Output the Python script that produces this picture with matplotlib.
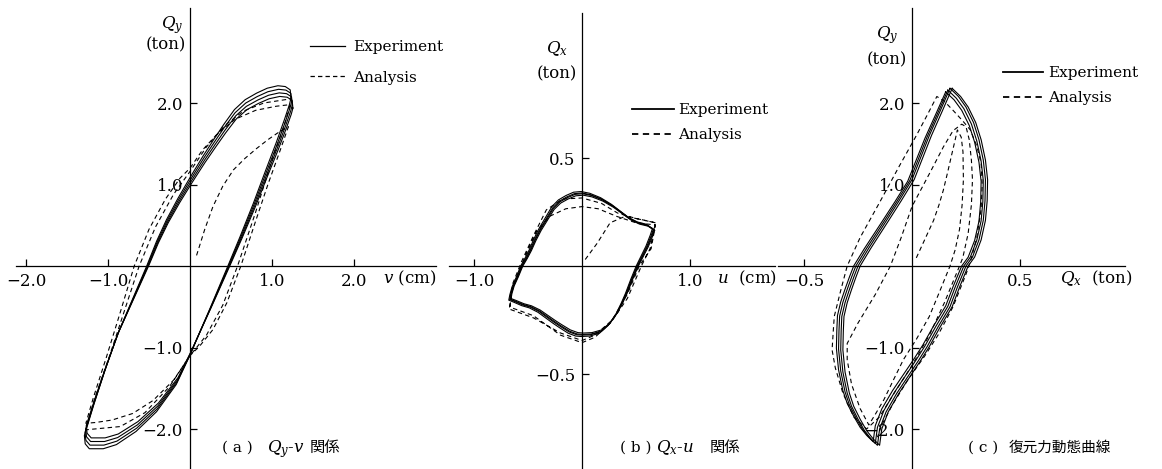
import numpy as np
import matplotlib
matplotlib.use("Agg")
import matplotlib.pyplot as plt
from matplotlib.lines import Line2D

plt.rcParams['font.family'] = ['DejaVu Serif', 'Noto Sans CJK JP']
plt.rcParams['mathtext.fontset'] = 'dejavuserif'

W, H = 1162, 469

# ---- (a) Qy - v : experiment loop (v cm, Qy ton)
a_exp_v = [1.24, 1.23, 1.17, 1.08, 0.95, 0.82, 0.68, 0.55, 0.42, 0.30, 0.17, 0.06, 0.0,
           -0.14, -0.28, -0.40, -0.52, -0.70, -0.88, -1.04, -1.17, -1.28,
           -1.27, -1.22, -1.05, -0.89, -0.65, -0.40, -0.16, 0.0, 0.12, 0.25, 0.36, 0.47,
           0.62, 0.78, 0.93, 1.06, 1.16, 1.22, 1.24]
a_exp_q = [2.04, 2.14, 2.18, 2.19, 2.16, 2.10, 2.02, 1.90, 1.72, 1.54, 1.34, 1.16, 1.06,
           0.82, 0.56, 0.30, 0.0, -0.42, -0.84, -1.30, -1.70, -2.06,
           -2.16, -2.22, -2.22, -2.17, -2.01, -1.77, -1.44, -1.10, -0.82, -0.52, -0.26, 0.0,
           0.36, 0.76, 1.16, 1.50, 1.78, 1.96, 2.04]
a_cycle_gain = [0.95, 0.97, 0.99, 1.01]
a_cycle_shift = [0.015, 0.008, 0.0, -0.008]

# analysis: virgin loading then two full cycles
a_ana_v = [0.08, 0.18, 0.28, 0.40, 0.53, 0.67, 0.81, 0.95, 1.08, 1.20,
           1.10, 0.95, 0.80, 0.62, 0.45, 0.28, 0.12, 0.0, -0.20, -0.45, -0.70, -0.95, -1.15, -1.27,
           -1.18, -1.02, -0.86, -0.68, -0.50, -0.30, -0.12, 0.0, 0.15, 0.35, 0.55, 0.80, 1.05, 1.22,
           1.16, 1.00, 0.80, 0.58, 0.40, 0.20, 0.0, -0.25, -0.55, -0.85, -1.27,
           -1.16, -0.98, -0.80, -0.62, -0.42, -0.20, 0.0, 0.20, 0.42, 0.65, 0.90, 1.22]
a_ana_q = [0.13, 0.45, 0.73, 0.98, 1.18, 1.32, 1.44, 1.55, 1.64, 1.71,
           1.42, 1.00, 0.55, 0.0, -0.45, -0.78, -0.98, -1.10, -1.40, -1.65, -1.81, -1.89, -1.92, -1.93,
           -1.62, -1.12, -0.60, 0.0, 0.45, 0.82, 1.08, 1.20, 1.42, 1.64, 1.80, 1.91, 1.96, 1.98,
           1.76, 1.30, 0.66, 0.0, -0.48, -0.85, -1.10, -1.48, -1.80, -1.97, -2.01,
           -1.62, -1.10, -0.55, 0.0, 0.48, 0.88, 1.16, 1.46, 1.72, 1.90, 2.00, 2.05]
a_xticks = [-2.0, -1.0, 1.0, 2.0]
a_yticks = [-2.0, -1.0, 1.0, 2.0]

# ---- (b) Qx - u : experiment loop (u cm, Qx ton)
b_exp_u = [0.66, 0.60, 0.52, 0.44, 0.36, 0.28, 0.18, 0.08, 0.0, -0.07, -0.14, -0.21, -0.27,
           -0.33, -0.39, -0.44, -0.48, -0.52, -0.56, -0.60, -0.64, -0.66, -0.67,
           -0.62, -0.55, -0.48, -0.40, -0.33, -0.26, -0.20, -0.12, -0.05, 0.0, 0.08, 0.17,
           0.25, 0.32, 0.37, 0.41, 0.46, 0.51, 0.56, 0.60, 0.64, 0.66]
b_exp_q = [0.17, 0.19, 0.20, 0.22, 0.25, 0.28, 0.31, 0.33, 0.338, 0.335, 0.32, 0.30, 0.27,
           0.22, 0.17, 0.12, 0.074, 0.035, 0.0, -0.05, -0.095, -0.13, -0.155,
           -0.165, -0.18, -0.19, -0.21, -0.235, -0.26, -0.28, -0.305, -0.318, -0.32, -0.318, -0.305,
           -0.27, -0.22, -0.17, -0.125, -0.06, 0.0, 0.05, 0.09, 0.14, 0.17]
b_cycle_gain = [0.97, 0.99, 1.0, 1.02]
b_cycle_shift = [0.012, 0.006, 0.0, -0.008]

b_ana_u = [0.03, 0.14, 0.26, 0.40, 0.55, 0.68,
           0.63, 0.55, 0.42, 0.27, 0.12, 0.0, -0.20, -0.45, -0.67,
           -0.64, -0.53, -0.42, -0.30, -0.15, 0.0, 0.15, 0.32, 0.50, 0.68,
           0.64, 0.53, 0.42, 0.28, 0.12, 0.0, -0.20, -0.45, -0.67,
           -0.64, -0.56, -0.45, -0.33, -0.18, 0.0, 0.18, 0.33, 0.50, 0.68]
b_ana_q = [0.03, 0.105, 0.20, 0.23, 0.215, 0.20,
           0.08, 0.0, -0.15, -0.26, -0.33, -0.355, -0.32, -0.23, -0.19,
           -0.10, 0.04, 0.16, 0.23, 0.265, 0.275, 0.265, 0.23, 0.20, 0.19,
           0.08, 0.0, -0.13, -0.25, -0.32, -0.345, -0.31, -0.24, -0.20,
           -0.08, 0.02, 0.14, 0.26, 0.31, 0.315, 0.29, 0.245, 0.22, 0.20]
b_xticks = [-1.0, 1.0]
b_yticks = [-0.5, 0.5]

# ---- (c) restoring force orbit : experiment (Qx ton, Qy ton)
c_exp_x = [0.176, 0.215, 0.25, 0.285, 0.31, 0.33, 0.34, 0.338, 0.33, 0.31, 0.28, 0.25,
           0.21, 0.176, 0.12, 0.07, 0.03, -0.01, -0.07, -0.12, -0.15, -0.16,
           -0.19, -0.22, -0.25, -0.28, -0.30, -0.32, -0.33, -0.328, -0.325, -0.31, -0.29,
           -0.27, -0.25, -0.20, -0.12, -0.06, 0.0, 0.04, 0.08, 0.13, 0.176]
c_exp_y = [2.18, 2.08, 1.95, 1.76, 1.55, 1.30, 1.06, 0.80, 0.56, 0.32, 0.11, 0.0,
           -0.26, -0.50, -0.75, -0.99, -1.16, -1.32, -1.56, -1.79, -2.0, -2.2,
           -2.12, -2.02, -1.88, -1.72, -1.56, -1.30, -1.03, -0.80, -0.62, -0.45, -0.29,
           -0.14, 0.0, 0.22, 0.55, 0.80, 1.06, 1.33, 1.60, 1.90, 2.18]
c_cycle_gain = [0.98, 0.99, 1.0, 1.0]
c_cycle_shift = [-0.02, -0.01, 0.0, 0.01]

c_ana_x = [0.02, 0.06, 0.10, 0.125, 0.145, 0.165, 0.185, 0.20, 0.21,
           0.228, 0.236, 0.238, 0.232, 0.22, 0.20, 0.176, 0.13, 0.08, 0.02, -0.04, -0.09, -0.13, -0.17, -0.20,
           -0.24, -0.28, -0.30, -0.30, -0.25, -0.17, -0.10, -0.05, 0.0, 0.04, 0.09, 0.145, 0.19, 0.23, 0.25,
           0.265, 0.275, 0.28, 0.275, 0.26, 0.235, 0.22, 0.15, 0.08, 0.0, -0.08, -0.15, -0.21,
           -0.27, -0.32, -0.355, -0.37, -0.365, -0.36, -0.33, -0.30, -0.24, -0.15, -0.06, 0.02, 0.07, 0.115,
           0.15, 0.19, 0.235, 0.27, 0.30, 0.32, 0.325, 0.32, 0.30, 0.27, 0.25, 0.19, 0.12, 0.06, -0.02,
           -0.09, -0.14, -0.16]
c_ana_y = [0.10, 0.33, 0.56, 0.75, 0.93, 1.15, 1.38, 1.55, 1.67,
           1.58, 1.40, 1.06, 0.75, 0.45, 0.20, 0.0, -0.30, -0.62, -0.90, -1.15, -1.42, -1.64, -1.82, -1.95,
           -1.75, -1.45, -1.15, -0.95, -0.70, -0.35, 0.0, 0.35, 0.73, 0.93, 1.18, 1.46, 1.66, 1.74, 1.71,
           1.55, 1.30, 1.06, 0.75, 0.40, 0.10, 0.0, -0.45, -0.85, -1.22, -1.55, -1.85, -2.0,
           -1.85, -1.56, -1.25, -1.03, -0.82, -0.62, -0.30, 0.0, 0.35, 0.78, 1.22, 1.60, 1.85, 2.08,
           2.02, 1.91, 1.78, 1.67, 1.47, 1.26, 1.00, 0.70, 0.35, 0.05, -0.10, -0.50, -0.85, -1.10, -1.40,
           -1.70, -1.95, -2.10]
c_xticks = [-0.5, 0.5]
c_yticks = [-2.0, -1.0, 1.0, 2.0]

fig = plt.figure(figsize=(W / 100, H / 100), dpi=100)


def panel_axes(ox, oy, sx, sy, left, right, top, bottom):
    # axes placed in pixel terms; origin (ox, oy) and px-per-unit (sx, sy)
    ax = fig.add_axes([left / W, 1 - bottom / H, (right - left) / W, (bottom - top) / H])
    ax.set_xlim((left - ox) / sx, (right - ox) / sx)
    ax.set_ylim((oy - bottom) / sy, (oy - top) / sy)
    ax.patch.set_visible(False)
    ax.spines['top'].set_visible(False)
    ax.spines['right'].set_visible(False)
    ax.spines['left'].set_position(('data', 0))
    ax.spines['bottom'].set_position(('data', 0))
    for s in ('left', 'bottom'):
        ax.spines[s].set_linewidth(0.9)
    ax.tick_params(direction='in', length=5, width=0.9, labelsize=12, pad=5)
    return ax


def fmt(v):
    return f"{v:.1f}".replace('-', '\u2212')


def draw_panel(ax, ex, ey, gains, shifts, ax_x, ax_y, xt, yt):
    ex, ey = np.asarray(ex), np.asarray(ey)
    for g, s in zip(gains, shifts):
        ax.plot(ex + s, ey * g, color='k', lw=0.8)
    ax.plot(ax_x, ax_y, color='k', lw=0.8, ls=(0, (4, 3)))
    ax.set_xticks(xt, [fmt(v) for v in xt])
    ax.set_yticks(yt, [fmt(v) for v in yt])


def legend(ax, x, y, hl, pad, spacing, lw):
    handles = [Line2D([], [], color='k', lw=lw),
               Line2D([], [], color='k', lw=lw, ls=(0, (3.5, 2.5)))]
    ax.legend(handles, ['Experiment', 'Analysis'], loc='upper left',
              bbox_to_anchor=(x / W, 1 - y / H), bbox_transform=fig.transFigure,
              frameon=False, borderpad=0, borderaxespad=0, handlelength=hl,
              handletextpad=pad, labelspacing=spacing, fontsize=11)


# (a)
ax_a = panel_axes(190, 266, 82, 81.5, 16, 436, 8, 469)
draw_panel(ax_a, a_exp_v, a_exp_q, a_cycle_gain, a_cycle_shift, a_ana_v, a_ana_q, a_xticks, a_yticks)
ax_a.text(-0.22, 2.96, '$Q_y$', fontsize=12, ha='center', va='center')
ax_a.text(-0.29, 2.71, '(ton)', fontsize=12, ha='center', va='center')
ax_a.text(2.35, -0.15, '$v$ (cm)', fontsize=12, ha='left', va='center')
legend(ax_a, 310, 40, 2.3, 0.55, 1.1, 0.9)

# (b)
ax_b = panel_axes(582, 266, 108, 216, 449, 775, 13, 469)
draw_panel(ax_b, b_exp_u, b_exp_q, b_cycle_gain, b_cycle_shift, b_ana_u, b_ana_q, b_xticks, b_yticks)
ax_b.text(-0.23, 1.005, '$Q_x$', fontsize=12, ha='center', va='center')
ax_b.text(-0.23, 0.89, '(ton)', fontsize=12, ha='center', va='center')
ax_b.text(1.25, -0.055, '$u$  (cm)', fontsize=12, ha='left', va='center')
legend(ax_b, 632, 103, 2.75, 0.25, 0.72, 1.3)

# (c)
ax_c = panel_axes(912, 266, 216, 81.5, 778, 1125, 8, 469)
draw_panel(ax_c, c_exp_x, c_exp_y, c_cycle_gain, c_cycle_shift, c_ana_x, c_ana_y, c_xticks, c_yticks)
ax_c.text(-0.116, 2.83, '$Q_y$', fontsize=12, ha='center', va='center')
ax_c.text(-0.116, 2.53, '(ton)', fontsize=12, ha='center', va='center')
ax_c.text(0.685, -0.15, '$Q_x$  (ton)', fontsize=12, ha='left', va='center')
legend(ax_c, 1003, 66, 2.6, 0.35, 0.72, 1.3)

# captions: (text, left edge px, font size, family)
cjk = 'Noto Sans CJK JP'
captions = [
    [('( a )', 222, 11, None), ('$Q_y$-$v$', 267, 12, None), ('関係', 310, 11, cjk)],
    [('( b )', 620, 11, None), ('$Q_x$-$u$', 656, 12, None), ('関係', 710, 11, cjk)],
    [('( c )', 968, 11, None), ('復元力動態曲線', 1009, 10.5, cjk)],
]
for pieces in captions:
    for txt, x0, size, family in pieces:
        kw = {'family': family} if family else {}
        fig.text(x0 / W, 1 - 452 / H, txt, fontsize=size, va='baseline', **kw)

fig.savefig('out.png', dpi=100)
